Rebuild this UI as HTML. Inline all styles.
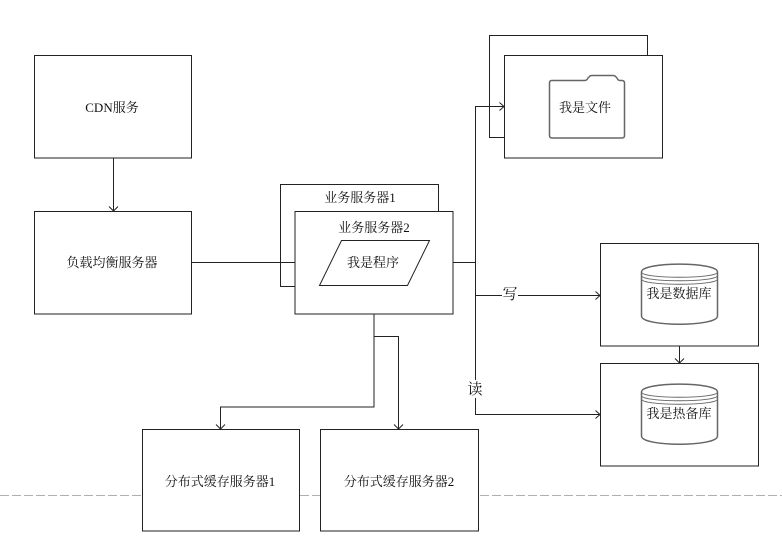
<!DOCTYPE html>
<html><head><meta charset="utf-8"><style>
html,body{margin:0;padding:0;background:#fff;width:782px;height:538px;overflow:hidden}
svg{display:block}
text{font-family:"Liberation Serif","Noto Serif CJK SC",serif;font-size:13px;fill:#111;text-anchor:middle}
.b{fill:#fff;stroke:#222;stroke-width:1}
.l{fill:none;stroke:#222;stroke-width:1}
.g{fill:#fff;stroke:#666;stroke-width:1.5}
.t{fill:none;stroke:#666;stroke-width:1}
</style></head><body>
<svg width="782" height="538" viewBox="0 0 782 538" xmlns="http://www.w3.org/2000/svg">
<line x1="0" y1="495.500" x2="782" y2="495.500" stroke="#b0b0b0" stroke-width="1" stroke-dasharray="9 3"/>

<path class="l" d="M113.500 158V211M109 206.500l4.500 4.500l4.500-4.500"/>
<path class="l" d="M191 262.500H295"/>
<path class="l" d="M453 262.500H475.500M475.500 106.500V380M475.500 398V414.500H600M595.500 410.500l4.500 4l-4.500 4"/>
<path class="l" d="M475.500 295.500H600M595.500 291.500l4.500 4l-4.500 4"/>
<path class="l" d="M374 314V407H220.500V429M216 424.500l4.500 4.500l4.500-4.500"/>
<path class="l" d="M374 336.500H398.500V429M394 424.500l4.500 4.500l4.500-4.500"/>
<path class="l" d="M679.500 346V363M675 358.500l4.500 4.500l4.500-4.500"/>

<path class="b" d="M34.500 55.500H191.500V158H34.500Z"/>
<path class="b" d="M34.500 211.500H191.500V314H34.500Z"/>
<path class="b" d="M142.500 429.500H299.500V531H142.500Z"/>
<path class="b" d="M320.500 429.500H478.500V531H320.500Z"/>
<path class="b" d="M600.500 243.500H758.500V346H600.500Z"/>
<path class="b" d="M600.500 363.500H758.500V466H600.500Z"/>

<rect x="280.500" y="184.500" width="158" height="102" fill="#fff" stroke="#222"/>
<line x1="280" y1="262.500" x2="295" y2="262.500" stroke="#222"/>
<path class="b" d="M295 211.500H453V314H295Z"/>
<path class="b" d="M341.500 240.500H429.500L407.500 285.500H319.500Z"/>

<rect x="489.500" y="35.500" width="158" height="102" fill="#fff" stroke="#222"/>
<line x1="475" y1="106.500" x2="504" y2="106.500" stroke="#222"/>
<path class="l" d="M499.500 102.500l4.500 4l-4.500 4"/>
<path class="b" d="M504.500 55.500H662.500V158H504.500Z"/>
<path class="g" d="M551.500 80.500H584.500Q587 80.500 588 78L589 77Q590 75.500 592 75.500H613Q615 75.500 616 77L617 78Q618 80.500 620 80.500H622Q624.500 80.500 624.500 83V135.500Q624.500 138 622 138H552Q549.500 138 549.500 135.500V83Q549.500 80.500 551.500 80.500Z"/>

<path class="g" d="M641.500 272C641.500 261.500 717.500 261.500 717.500 272V316C717.500 327 641.500 327 641.500 316Z"/>
<path class="t" d="M641.500 272C641.500 279 717.500 279 717.500 272M641.500 275.500C641.500 282.500 717.500 282.500 717.500 275.500M641.500 279C641.500 286 717.500 286 717.500 279"/>
<path class="g" d="M641.500 392C641.500 381.500 717.500 381.500 717.500 392V436C717.500 447 641.500 447 641.500 436Z"/>
<path class="t" d="M641.500 392C641.500 399 717.500 399 717.500 392M641.500 395.500C641.500 402.500 717.500 402.500 717.500 395.500M641.500 399C641.500 406 717.500 406 717.500 399"/>

<rect x="502" y="286" width="16" height="18" fill="#fff"/>

<text x="112" y="112">CDN服务</text>
<text x="112" y="267">负载均衡服务器</text>
<text x="360" y="202">业务服务器1</text>
<text x="374" y="232">业务服务器2</text>
<text x="373" y="267">我是程序</text>
<text x="585" y="112">我是文件</text>
<text x="679" y="298">我是数据库</text>
<text x="679" y="418">我是热备库</text>
<text x="220" y="486">分布式缓存服务器1</text>
<text x="399" y="486">分布式缓存服务器2</text>
<text x="510" y="299" style="font-size:15px">写</text>
<text x="475" y="394" style="font-size:15px">读</text>
</svg>
</body></html>
